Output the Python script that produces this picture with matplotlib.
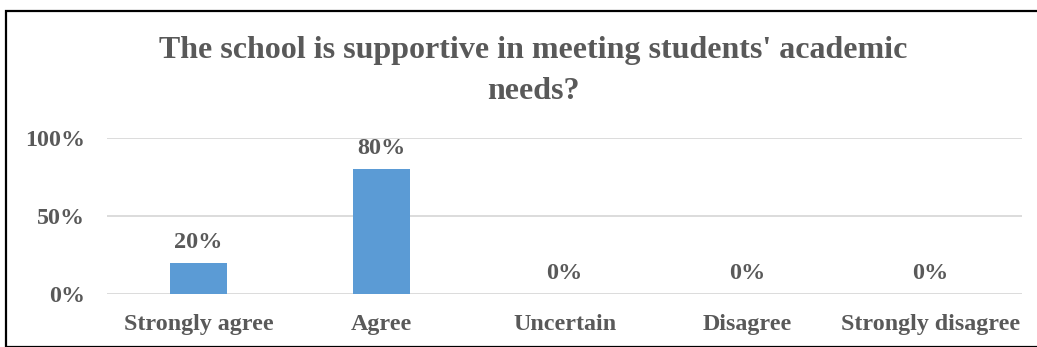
import matplotlib
matplotlib.use("Agg")
import matplotlib.pyplot as plt
from matplotlib.patches import Rectangle
from matplotlib.ticker import FixedLocator, FuncFormatter

categories = ["Strongly agree", "Agree", "Uncertain", "Disagree", "Strongly disagree"]
values = [20, 80, 0, 0, 0]
yticks = [0, 50, 100]

title = "The school is supportive in meeting students' academic\nneeds?"
text_color = "#595959"
bar_color = "#5B9BD5"

plt.rcParams["font.family"] = ["Liberation Serif", "DejaVu Serif"]
plt.rcParams["font.weight"] = "bold"

W, H = 1037, 347
fig = plt.figure(figsize=(W / 100, H / 100), dpi=100)

# plot area in pixel coordinates
left, right, top, bottom = 107, 1022, 138, 294
ax = fig.add_axes([left / W, 1 - bottom / H, (right - left) / W, (bottom - top) / H])

x = list(range(len(categories)))
ax.bar(x, values, width=0.31, color=bar_color, zorder=3)
ax.set_xlim(-0.5, len(categories) - 0.5)
ax.set_ylim(0, 100)

ax.yaxis.set_major_locator(FixedLocator(yticks))
ax.yaxis.set_major_formatter(FuncFormatter(lambda v, p: f"{int(v)}%"))
ax.grid(axis="y", color="#d9d9d9", linewidth=1.3, zorder=0)
ax.set_xticks(x)
ax.set_xticklabels(categories)
ax.tick_params(axis="both", length=0, labelsize=17.3, colors=text_color)
ax.tick_params(axis="x", pad=14.5)
ax.tick_params(axis="y", pad=16)
for lab in ax.get_xticklabels() + ax.get_yticklabels():
    lab.set_fontweight("bold")
for s in ax.spines.values():
    s.set_visible(False)

for xi, v in zip(x, values):
    ax.annotate(f"{v}%", (xi, v), xytext=(0, 7), textcoords="offset points",
                ha="center", va="bottom", fontsize=17.5, fontweight="bold",
                color=text_color)

fig.text(533 / W, 1 - 71 / H, title, ha="center", va="center", fontsize=23,
         fontweight="bold", color=text_color, linespacing=1.52)

# outer chart frame
fig.patches.append(Rectangle((6 / W, 0), 1.2, 1 - 11 / H, transform=fig.transFigure,
                             fill=False, edgecolor="black", linewidth=1.6))

fig.savefig("out.png", dpi=100, facecolor="white")
